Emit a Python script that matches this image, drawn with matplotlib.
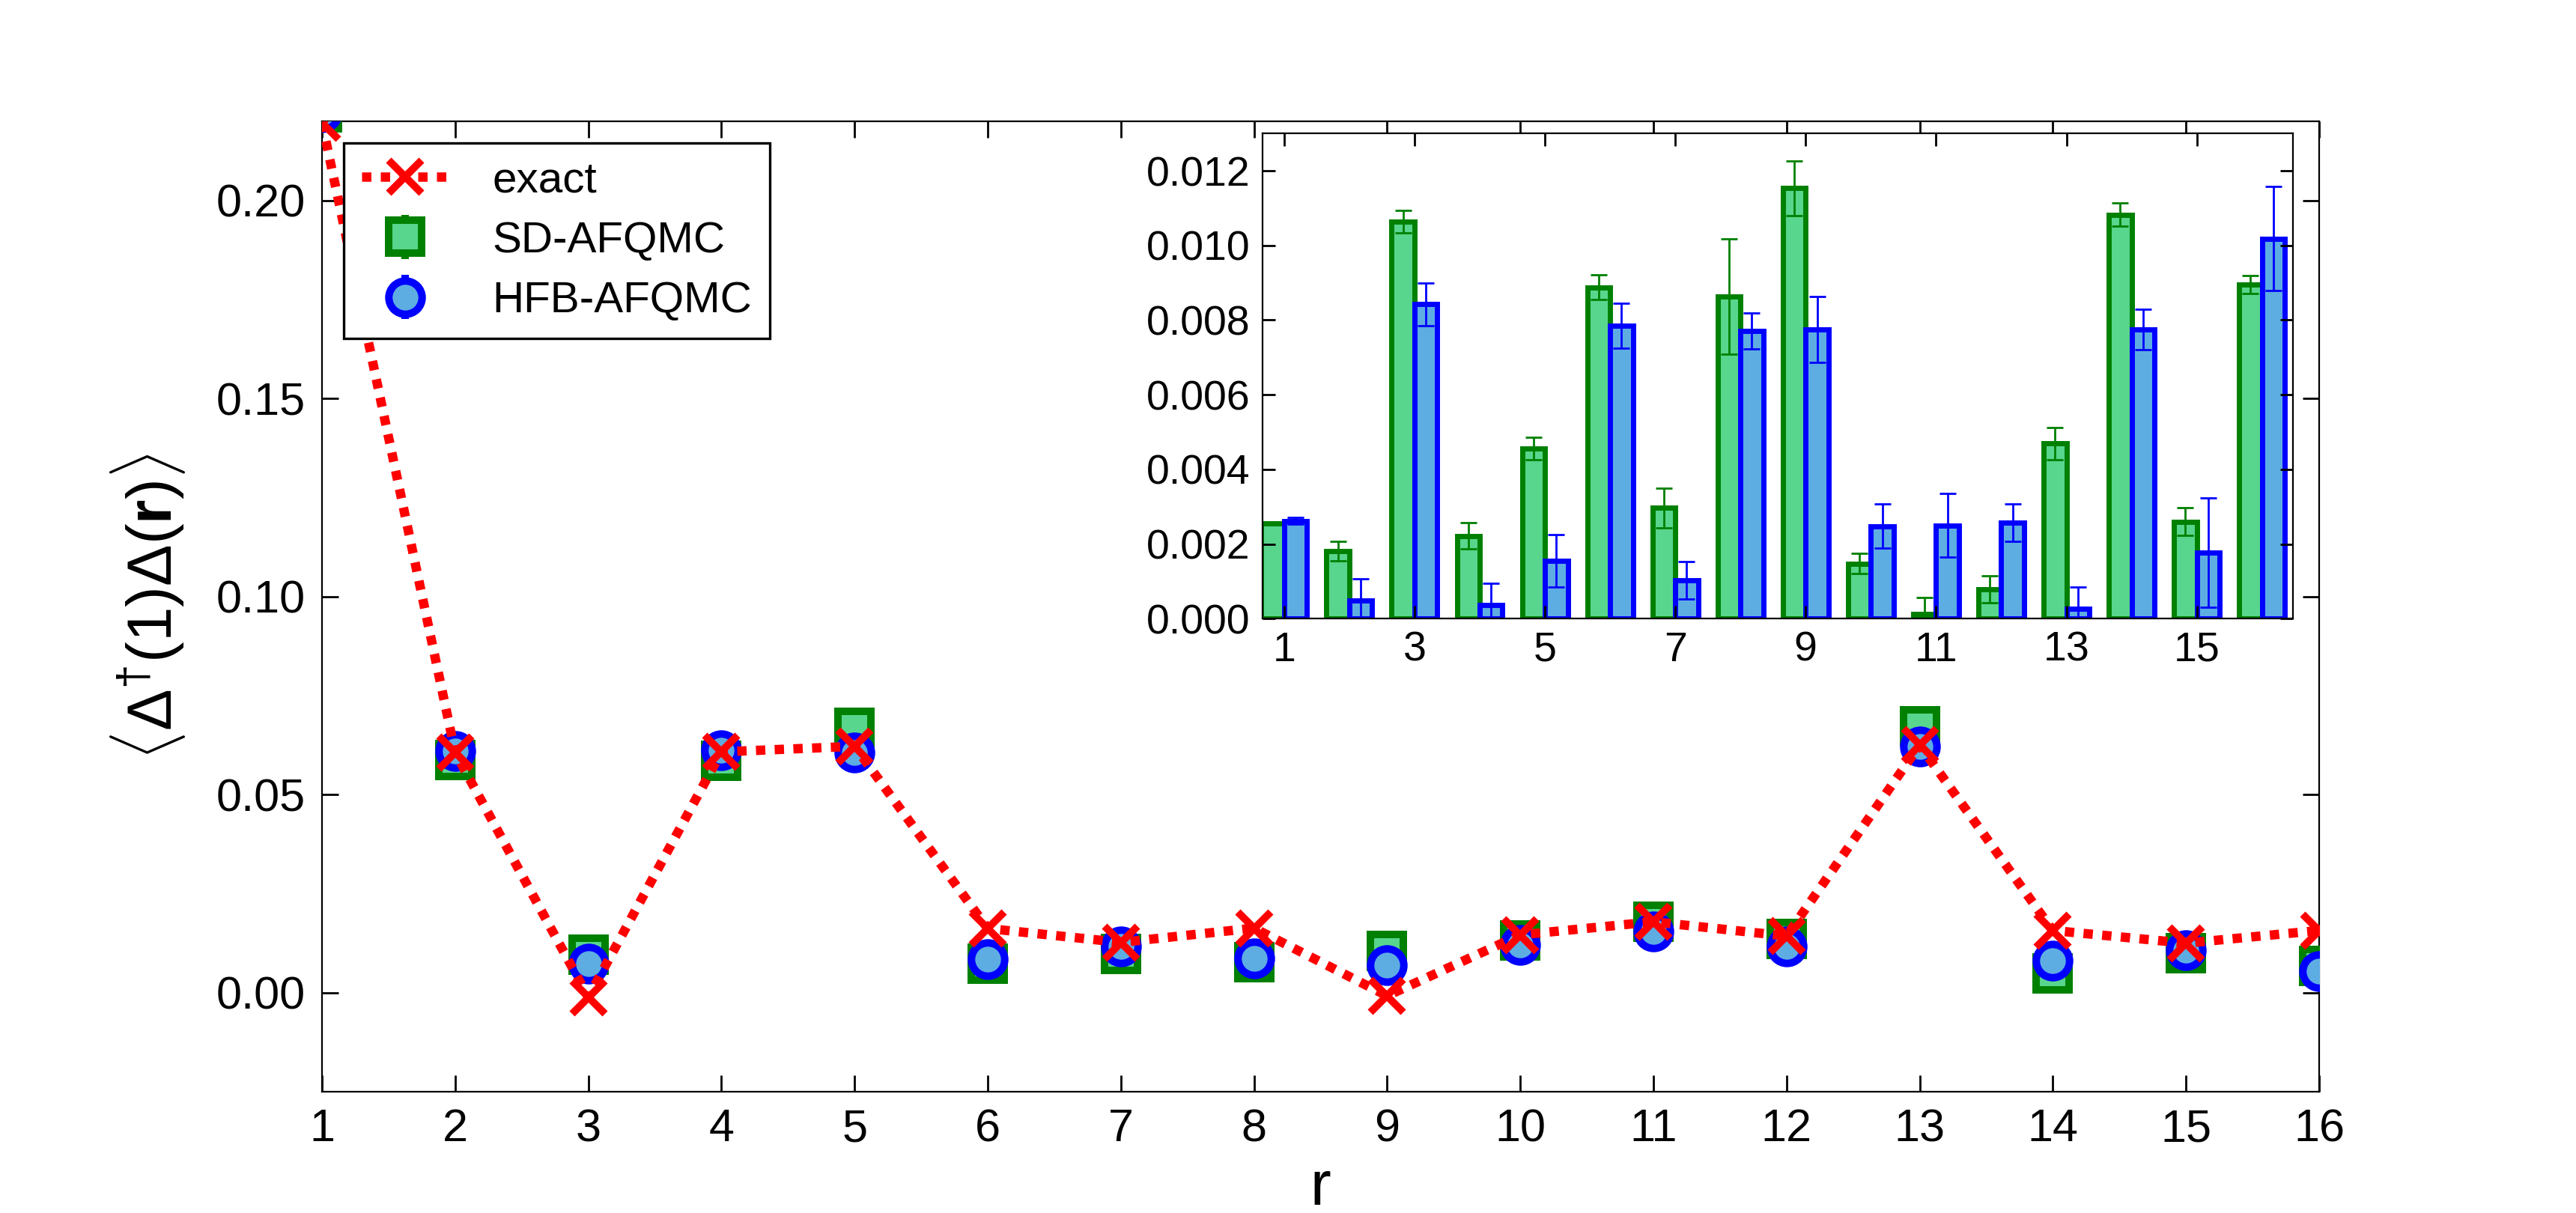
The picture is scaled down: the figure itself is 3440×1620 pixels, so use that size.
import numpy as np
import matplotlib.pyplot as plt

plt.rcParams['font.family'] = ['Liberation Sans', 'DejaVu Sans']
plt.rcParams['mathtext.fontset'] = 'custom'
plt.rcParams['mathtext.rm'] = 'Liberation Sans'
plt.rcParams['mathtext.it'] = 'Liberation Sans:italic'
plt.rcParams['mathtext.bf'] = 'Liberation Sans:bold'
plt.rcParams['xtick.direction'] = 'in'
plt.rcParams['ytick.direction'] = 'in'
plt.rcParams['xtick.top'] = True
plt.rcParams['ytick.right'] = True

# main panel: correlation vs distance r
r = np.arange(1, 17)
exact = [0.2196, 0.0606, -0.0011, 0.0608, 0.0622, 0.0162, 0.0127, 0.0163,
         -0.0008, 0.0146, 0.0179, 0.0143, 0.0625, 0.0157, 0.0125, 0.0157]
sd = [0.2222, 0.0588, 0.0096, 0.0586, 0.0668, 0.0073, 0.0097, 0.0077,
      0.0106, 0.0131, 0.0180, 0.0135, 0.0672, 0.0049, 0.0099, 0.0067]
hfb = [0.2222, 0.0611, 0.0073, 0.0612, 0.0606, 0.0084, 0.0117, 0.0086,
       0.0069, 0.0121, 0.0154, 0.0117, 0.0622, 0.0080, 0.0107, 0.0055]

# inset: |AFQMC - exact| with error bars
sd_diff = [0.00256, 0.00181, 0.01064, 0.00222, 0.00456, 0.00888, 0.00297, 0.00863,
           0.01153, 0.00147, 0.00013, 0.00079, 0.00469, 0.01082, 0.00260, 0.00895]
sd_err = [0.00003, 0.00027, 0.00030, 0.00036, 0.00030, 0.00033, 0.00053, 0.00154,
          0.00073, 0.00027, 0.00043, 0.00036, 0.00043, 0.00031, 0.00037, 0.00024]
hfb_diff = [0.00262, 0.00049, 0.00842, 0.00036, 0.00155, 0.00784, 0.00103, 0.00770,
            0.00775, 0.00248, 0.00250, 0.00258, 0.00026, 0.00774, 0.00177, 0.01018]
hfb_err = [0.00009, 0.00057, 0.00058, 0.00058, 0.00070, 0.00060, 0.00050, 0.00048,
           0.00089, 0.00060, 0.00086, 0.00050, 0.00058, 0.00054, 0.00147, 0.00139]

light_green = '#58d68d'
light_blue = '#5dade2'

fig = plt.figure(figsize=(17.205, 8.1), dpi=200)
ax = fig.add_axes([0.125, 0.1, 0.775, 0.8])

h_sd = ax.errorbar(r, sd, yerr=sd_err, fmt='s', ms=16, mew=3.6, mec='green',
                   mfc=light_green, ecolor='green', elinewidth=3.6, capsize=0,
                   label='SD-AFQMC', zorder=3)
h_hfb = ax.errorbar(r, hfb, yerr=hfb_err, fmt='o', ms=16, mew=3.6, mec='blue',
                    mfc=light_blue, ecolor='blue', elinewidth=3.6, capsize=0,
                    label='HFB-AFQMC', zorder=4)
h_ex, = ax.plot(r, exact, color='red', linestyle=(0, (1, 1)), lw=4.5,
                marker='x', ms=16, mew=3.6, label='exact', zorder=5)

ax.set_xlim(1, 16)
ax.set_ylim(-0.025, 0.22)
ax.set_xticks(r)
ax.set_yticks([0.0, 0.05, 0.10, 0.15, 0.20])
ax.set_yticklabels(['0.00', '0.05', '0.10', '0.15', '0.20'])
ax.tick_params(labelsize=22, length=8, width=1, pad=8)
ax.set_xlabel('r', fontsize=30)
ax.set_ylabel(r'$\langle\Delta^{\dagger}(1)\Delta(\mathbf{r})\rangle$', fontsize=30, labelpad=14)

leg = ax.legend(handles=[h_ex, h_sd, h_hfb], loc='upper left', fontsize=21,
                numpoints=1, fancybox=False, framealpha=1, labelspacing=0.45,
                handletextpad=1.0)
leg.get_frame().set_edgecolor('black')
leg.get_frame().set_linewidth(1.2)

# inset
ax2 = fig.add_axes([0.49, 0.49, 0.40, 0.40])
w = 0.35
ax2.bar(r - w, sd_diff, w, align='edge', yerr=sd_err, color=light_green,
        edgecolor='green', linewidth=2.5,
        error_kw=dict(ecolor='green', elinewidth=1, capsize=4, capthick=1))
ax2.bar(r, hfb_diff, w, align='edge', yerr=hfb_err, color=light_blue,
        edgecolor='blue', linewidth=2.5,
        error_kw=dict(ecolor='blue', elinewidth=1, capsize=4, capthick=1))
ax2.set_xlim(0.67, 16.48)
ax2.set_ylim(0, 0.013)
ax2.set_xticks(np.arange(1, 16, 2))
ax2.set_yticks(np.arange(0, 0.0121, 0.002))
ax2.set_yticklabels(['0.000', '0.002', '0.004', '0.006', '0.008', '0.010', '0.012'])
ax2.tick_params(labelsize=20, length=6, width=1, pad=6)

fig.savefig('out.png', dpi=200, facecolor='white')
